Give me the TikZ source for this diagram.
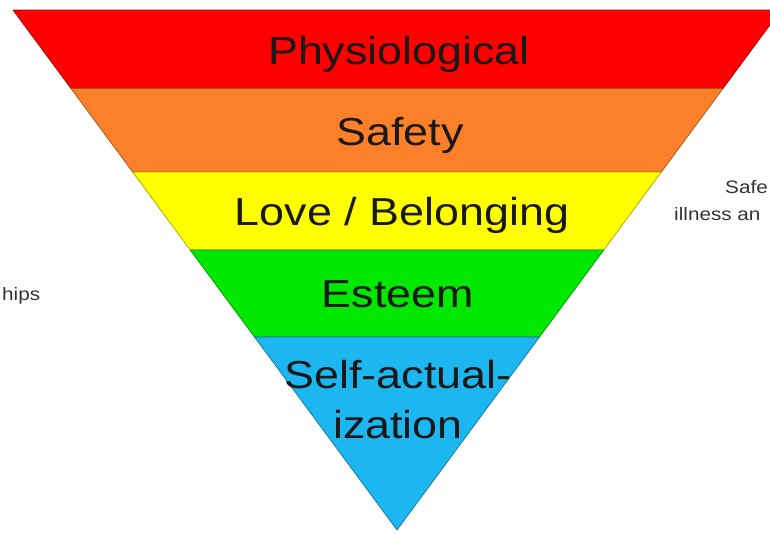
\documentclass[tikz,border=0pt]{standalone}
\usepackage{fontspec}
\setmainfont{Liberation Sans}
\definecolor{cRed}{RGB}{255,0,0}
\definecolor{cOrange}{RGB}{252,128,42}
\definecolor{cYellow}{RGB}{255,255,0}
\definecolor{cGreen}{RGB}{0,232,0}
\definecolor{cBlue}{RGB}{28,182,240}
\definecolor{cText}{RGB}{25,25,25}
\tikzset{
  band/.style={fill=#1, draw=#1!65!black, line width=0.7pt, line join=round},
  level/.style={text=cText, anchor=base, inner sep=0pt, xscale=1.15,
    font=\fontsize{39}{44}\selectfont},
  side/.style={text=black!80, inner sep=0pt, xscale=1.15,
    font=\fontsize{18}{21}\selectfont}
}
\begin{document}
\begin{tikzpicture}[x=1pt,y=-1pt]
\useasboundingbox (0,0) rectangle (770,533);
\fill[white] (0,0) rectangle (770,533);
\begin{scope}
\clip (0,0) rectangle (770,533);
% boundary coordinates
\coordinate (tl) at (13,10);    \coordinate (tr) at (781,10);
\coordinate (l1) at (71,88.5);  \coordinate (r1) at (723,88.5);
\coordinate (l2) at (132.6,172);\coordinate (r2) at (661.4,172);
\coordinate (l3) at (190.2,250);\coordinate (r3) at (603.8,250);
\coordinate (l4) at (254.5,337);\coordinate (r4) at (539.5,337);
\coordinate (apex) at (397,530);
\draw[band=cRed]    (tl) -- (tr) -- (r1) -- (l1) -- cycle;
\draw[band=cOrange] (l1) -- (r1) -- (r2) -- (l2) -- cycle;
\draw[band=cYellow] (l2) -- (r2) -- (r3) -- (l3) -- cycle;
\draw[band=cGreen]  (l3) -- (r3) -- (r4) -- (l4) -- cycle;
\draw[band=cBlue]   (l4) -- (r4) -- (apex) -- cycle;
\end{scope}
\node[level] (phys) at (399,64) {Physiological};
\node[level] (safe) at (400,145) {Safety};
\node[level] (love) at (402,225) {Love / Belonging};
\node[level] (est)  at (398,307) {Esteem};
\node[level] (self) at (398,388) {Self-actual-};
\node[level] (iz)   at (398,438) {ization};
\node[side, anchor=base east] (s1) at (768,193) {Safe};
\node[side, anchor=base west] (s2) at (674,220) {illness an};
\node[side, anchor=base west] (s3) at (2,300) {hips};
\end{tikzpicture}
\end{document}
